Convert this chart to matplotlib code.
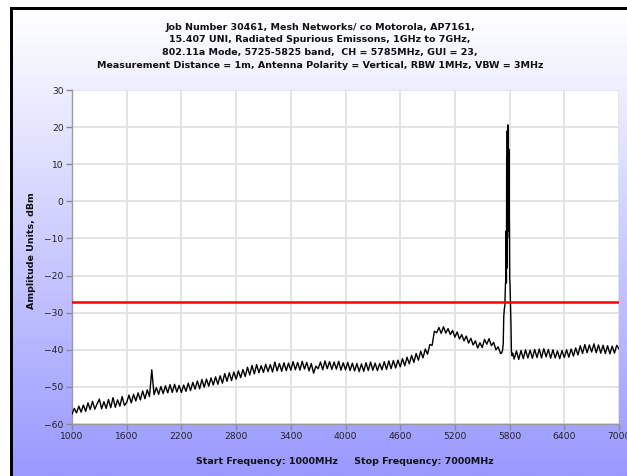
import numpy as np
import matplotlib
matplotlib.use('Agg')
import matplotlib.pyplot as plt
from matplotlib.patches import Rectangle

# sweep settings (MHz)
start_freq = 1000
stop_freq = 7000
limit_line = -27

# measured trace, one reading every 25 MHz from 1000 to 7000 MHz (dBm)
# nan = points covered by the carrier readings below
trace_amp = [
    -57.3, -55.8, -57.0, -55.2, -56.8, -54.9, -56.6, -54.3, -56.1, -53.9, -56.0, -54.6,
    -53.3, -55.9, -54.0, -55.8, -53.4, -55.6, -52.9, -55.5, -53.5, -55.2, -52.6, -55.0,
    -54.2, -52.2, -54.3, -52.0, -53.8, -51.6, -53.5, -51.1, -53.2, -50.8, -52.6, -45.4,
    -52.1, -50.2, -52.0, -49.9, -51.8, -49.7, -51.6, -49.4, -51.5, -49.3, -51.4, -49.6,
    -51.5, -49.5, -51.2, -49.0, -51.0, -48.8, -50.6, -48.4, -50.5, -48.0, -50.1, -47.9,
    -49.8, -47.6, -49.5, -47.3, -49.3, -47.0, -49.0, -46.4, -48.5, -46.2, -48.3, -46.0,
    -47.9, -45.7, -47.5, -45.3, -47.2, -44.7, -46.8, -44.2, -46.5, -44.0, -46.2, -44.3,
    -46.1, -43.9, -45.9, -44.0, -46.0, -43.3, -45.7, -43.7, -45.8, -43.5, -45.6, -43.6,
    -45.5, -43.2, -45.4, -43.4, -45.5, -43.1, -45.2, -43.4, -45.7, -43.7, -46.3, -44.4,
    -45.1, -43.3, -45.4, -43.0, -45.1, -43.2, -45.3, -43.3, -45.2, -43.1, -45.5, -43.5,
    -45.4, -43.4, -45.6, -43.6, -45.7, -43.7, -45.9, -43.8, -45.8, -43.5, -45.6, -43.3,
    -45.5, -43.6, -45.6, -43.7, -45.4, -43.2, -45.3, -43.0, -45.1, -42.9, -44.9, -42.8,
    -44.6, -42.4, -44.3, -42.0, -43.8, -41.5, -43.4, -41.0, -42.8, -40.4, -42.2, -39.8,
    -41.2, -38.6, -38.8, -35.0, -35.4, -34.0, -35.6, -33.8, -35.5, -34.3, -35.9, -34.8,
    -36.6, -35.2, -37.1, -35.9, -37.6, -36.3, -38.2, -36.9, -38.7, -37.6, -39.5, -38.1,
    -39.4, -37.2, -38.5, -37.0, -38.9, -38.0, -40.0, -39.2, -41.0, np.nan, np.nan, np.nan,
    np.nan, np.nan, -42.5, -40.3, -42.6, -40.2, -42.4, -40.0, -42.2, -40.1, -42.3, -39.9,
    -42.1, -39.8, -42.2, -39.7, -41.9, -39.9, -42.3, -40.0, -42.2, -40.3, -42.4, -40.2,
    -42.1, -40.0, -42.0, -39.8, -41.7, -39.5, -41.4, -38.9, -41.0, -38.6, -40.8, -38.7,
    -40.6, -38.4, -40.8, -38.7, -40.9, -38.8, -41.0, -38.9, -41.1, -39.0, -40.9, -38.8,
    -39.8,
]

# carrier at CH 5785 MHz, finer readings
peak_freq = [5712, 5722, 5730, 5736, 5742, 5748, 5754, 5759, 5762, 5765, 5768, 5771,
             5774, 5777, 5780, 5783, 5786, 5789, 5792, 5795, 5798, 5801, 5805, 5810,
             5815, 5820, 5826, 5834]
peak_amp = [-40.9, -40.2, -38.5, -31.0, -29.0, -28.2, -22.5, -21.0, -8.0, -22.0, 12.0, -18.0,
            19.0, -10.0, 20.6, -2.0, 19.5, -8.0, 14.0, -3.0, -6.0, -21.0, -22.5, -28.0,
            -33.0, -40.5, -41.6, -40.9]

title_lines = [
    'Job Number 30461, Mesh Networks/ co Motorola, AP7161,',
    '15.407 UNI, Radiated Spurious Emissons, 1GHz to 7GHz,',
    '802.11a Mode, 5725-5825 band,  CH = 5785MHz, GUI = 23,',
    'Measurement Distance = 1m, Antenna Polarity = Vertical, RBW 1MHz, VBW = 3MHz',
]
x_ticks = [1000, 1600, 2200, 2800, 3400, 4000, 4600, 5200, 5800, 6400, 7000]
y_ticks = [30, 20, 10, 0, -10, -20, -30, -40, -50, -60]

# merge sweep and carrier readings
sweep_freq = np.linspace(start_freq, stop_freq, len(trace_amp))
amp = np.array(trace_amp)
keep = ~np.isnan(amp)
freq_all = np.concatenate([sweep_freq[keep], peak_freq])
amp_all = np.concatenate([amp[keep], peak_amp])
order = np.argsort(freq_all)
freq_all = freq_all[order]
amp_all = amp_all[order]

W, H = 627, 476
fig = plt.figure(figsize=(W / 100, H / 100), dpi=100)
fig.patch.set_facecolor('white')

# background: white to periwinkle gradient with a black frame on top/left
bg = fig.add_axes([0, 0, 1, 1])
bg.set_axis_off()
bg.set_xlim(0, W)
bg.set_ylim(H, 0)
t = np.linspace(0, 1, 256)[:, None]
top = np.array([1.0, 1.0, 1.0])
bottom = np.array([0.6, 0.6, 1.0])
grad = (top * (1 - t) + bottom * t)[:, None, :]
bg.imshow(grad, extent=(13, W, H, 10), aspect='auto', interpolation='bilinear')
bg.add_patch(Rectangle((10, 7), 3, H - 7, color='black', lw=0))
bg.add_patch(Rectangle((10, 7), W - 10, 3, color='black', lw=0))

for i, line in enumerate(title_lines):
    fig.text(320 / W, 1 - (27 + i * 12.7) / H, line, ha='center', va='center',
             fontsize=6.8, fontweight='bold', color='#111111')

ax = fig.add_axes([72 / W, 52 / H, 547 / W, 334 / H])
ax.set_facecolor('white')
ax.plot(freq_all, amp_all, color='black', lw=1.0, zorder=3)
ax.axhline(limit_line, color='#ff0000', lw=1.8, zorder=4)

ax.set_xlim(start_freq, stop_freq)
ax.set_ylim(-60, 30)
ax.set_xticks(x_ticks)
ax.set_yticks(y_ticks)
ax.grid(True, color='#e2e2e2', lw=1.3)
ax.set_axisbelow(True)
for s in ['top', 'right']:
    ax.spines[s].set_visible(False)
for s in ['left', 'bottom']:
    ax.spines[s].set_color('#9a9a9a')
    ax.spines[s].set_linewidth(1.0)
ax.tick_params(axis='both', length=4, width=1, color='#8a8a8a', labelsize=6.6,
               labelcolor='#222222', pad=2)

fig.text(32 / W, 1 - 251 / H, 'Amplitude Units, dBm', rotation=90, ha='center',
         va='center', fontsize=6.8, fontweight='bold', color='#111111')
fig.text(345 / W, 1 - 461 / H, 'Start Frequency: 1000MHz     Stop Frequency: 7000MHz',
         ha='center', va='center', fontsize=6.8, fontweight='bold', color='#111111')

fig.savefig('out.png', dpi=100)
